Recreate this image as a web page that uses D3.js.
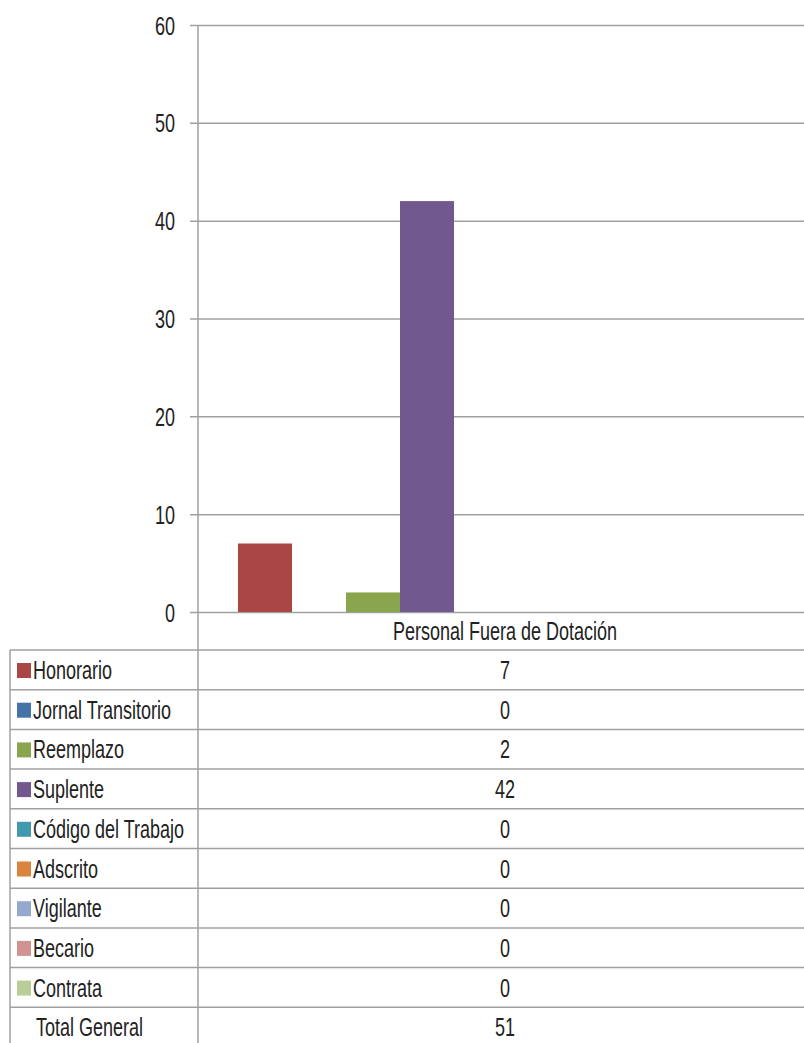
<!DOCTYPE html>
<html>
<head>
<meta charset="utf-8">
<script src="https://cdn.jsdelivr.net/npm/d3@7"></script>
<style>
  body { margin: 0; background: #fff; }
  text { font-family: "Liberation Sans", Arial, sans-serif; font-size: 18px; fill: #222; }
</style>
</head>
<body>
<div id="viz"></div>
<script>
const category = "Personal Fuera de Dotación";
const series = ["Honorario", "Jornal Transitorio", "Reemplazo", "Suplente", "Código del Trabajo", "Adscrito", "Vigilante", "Becario", "Contrata"];
const values = [7, 0, 2, 42, 0, 0, 0, 0, 0];
const colors = ["#aa4643", "#4572a7", "#89a54e", "#71588f", "#4198af", "#db843d", "#93a9cf", "#d19392", "#b9cd96"];
const yTicks = [0, 10, 20, 30, 40, 50, 60];
const totalLabel = "Total General";
const total = 51;

const W = 804, H = 1043;
const plotL = 198, plotR = 812, plotT = 25, plotB = 612;
const gridColor = "#a0a0a0";
const stretch = 1.42; // text in the picture is tall and narrow

const svg = d3.select("#viz").append("svg")
  .attr("width", W)
  .attr("height", H);

const y = d3.scaleLinear().domain([0, 60]).range([plotB, plotT]);

const xCat = d3.scaleBand().domain([category]).range([plotL, plotR]);
// bars inside the category band
const xSer = d3.scaleBand().domain(series).range([40, 40 + 54 * series.length]);

// gridlines + tick marks
svg.append("g")
  .attr("transform", `translate(${plotL},0)`)
  .call(d3.axisLeft(y).tickValues(yTicks).tickSize(-(W - plotL)))
  .call(g => g.select(".domain").remove())
  .call(g => g.selectAll(".tick line").attr("stroke", gridColor).attr("stroke-width", 1.5).attr("x1", -8))
  .call(g => g.selectAll(".tick text")
    .attr("font-size", 18).attr("fill", "#222")
    .attr("font-family", "Liberation Sans, Arial, sans-serif")
    .attr("x", 0).attr("dy", null)
    .attr("transform", `translate(-23,9) scale(1,${stretch})`));

// bars
svg.append("g").selectAll("rect")
  .data(series.map((s, i) => ({ s, v: values[i], c: colors[i] })))
  .join("rect")
  .attr("x", d => xCat(category) + xSer(d.s))
  .attr("width", xSer.bandwidth())
  .attr("y", d => y(d.v))
  .attr("height", d => y(0) - y(d.v))
  .attr("fill", d => d.c);

// data table
const rowH = 39.7;
const tableTop = 650;
const rows = series.map((s, i) => ({ label: s, v: values[i], c: colors[i] }));
rows.push({ label: totalLabel, v: total, c: null });

const tableLeft = 10;
const midX = xCat(category) + xCat.bandwidth() / 2;

// category header label
svg.append("text")
  .attr("transform", `translate(${midX},640) scale(1,${stretch})`)
  .attr("text-anchor", "middle")
  .text(category);

const rg = svg.append("g").selectAll("g")
  .data(rows)
  .join("g")
  .attr("transform", (d, i) => `translate(0,${tableTop + i * rowH})`);

rg.filter(d => d.c).append("rect")
  .attr("x", 17).attr("y", 13)
  .attr("width", 14).attr("height", 15)
  .attr("fill", d => d.c);

rg.append("text")
  .attr("transform", d => `translate(${d.c ? 33 : 36},29) scale(1,${stretch})`)
  .text(d => d.label);

rg.append("text")
  .attr("transform", `translate(${midX},29) scale(1,${stretch})`)
  .attr("text-anchor", "middle")
  .text(d => d.v);

// table lines
const lines = svg.append("g").attr("stroke", gridColor).attr("stroke-width", 1.5);
d3.range(rows.length).forEach(i => {
  lines.append("line")
    .attr("x1", tableLeft).attr("x2", W)
    .attr("y1", tableTop + i * rowH).attr("y2", tableTop + i * rowH);
});
lines.append("line")
  .attr("x1", tableLeft).attr("x2", tableLeft)
  .attr("y1", tableTop).attr("y2", H);
// y axis line running down through the table
lines.append("line")
  .attr("x1", plotL).attr("x2", plotL)
  .attr("y1", plotT).attr("y2", H);
</script>
</body>
</html>
